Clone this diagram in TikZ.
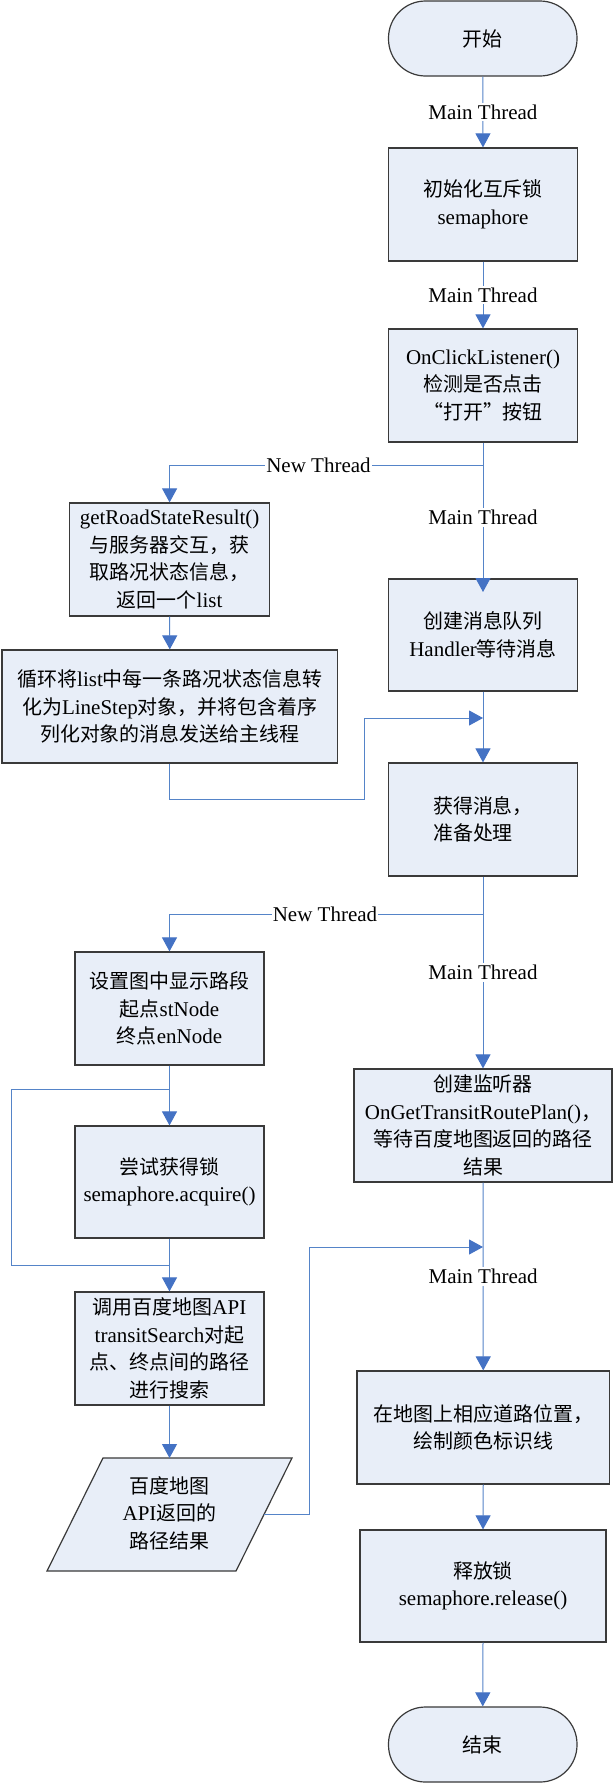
\documentclass[tikz,border=0pt]{standalone}
\usepackage{fontspec}
\setmainfont{Liberation Serif}
\newfontfamily\zh[Scale=0.95]{Noto Sans CJK SC}
\usetikzlibrary{arrows.meta,calc}
\definecolor{fillc}{HTML}{E8EEF8}
\definecolor{bordc}{HTML}{3A3A3A}
\definecolor{linec}{HTML}{5584C8}
\definecolor{arrc}{HTML}{4472C4}
\begin{document}
\begin{tikzpicture}[x=1pt,y=-1pt,
  box/.style={draw=bordc, fill=fillc, line width=1.2pt, inner sep=0pt, align=center, text=black, font=\fontsize{21}{27.5}\selectfont},
  term/.style={box, rounded corners=37pt},
  conn/.style={draw=linec, line width=1pt},
  arr/.style={conn, -{Triangle[width=15pt,length=14pt,color=arrc]}},
  lbl/.style={fill=white, inner xsep=1pt, inner ysep=2pt, text=black, font=\fontsize{21}{25}\selectfont},
  txt/.style={inner sep=0pt, align=center, text=black, font=\fontsize{21}{27.5}\selectfont}]
\useasboundingbox (0,0) rectangle (613,1783);
\fill[white] (0,0) rectangle (613,1783);

% main column
\node[term, minimum width=188.5pt, minimum height=75pt] (start) at (482.75,38.5) {{\zh 开始}};
\node[box, minimum width=189pt, minimum height=113pt] (b2) at (483,204.5) {{\zh 初始化互斥锁}\\semaphore};
\node[box, minimum width=189pt, minimum height=113pt] (b3) at (483,385.5) {OnClickListener()\\{\zh 检测是否点击}\\{\zh “打开”按钮}};
\node[box, minimum width=189pt, minimum height=112pt] (b5) at (483,635) {{\zh 创建消息队列}\\Handler{\zh 等待消息}};
\node[box, minimum width=189pt, minimum height=113pt, align=left] (b7) at (483,819.5) {{\zh 获得消息，}\\{\zh 准备处理}};
\node[box, minimum width=258pt, minimum height=113pt] (b9) at (483,1125.5) {{\zh 创建监听器}\\OnGetTransitRoutePlan(){\zh ，}\\{\zh 等待百度地图返回的路径}\\{\zh 结果}};
\node[box, minimum width=252.5pt, minimum height=113pt] (b12) at (483.25,1427.5) {{\zh 在地图上相应道路位置，}\\{\zh 绘制颜色标识线}};
\node[box, minimum width=246pt, minimum height=112pt] (b13) at (483,1586) {{\zh 释放锁}\\semaphore.release()};
\node[term, minimum width=188.5pt, minimum height=75pt] (end) at (482.75,1744.5) {{\zh 结束}};

% left column
\node[box, minimum width=200pt, minimum height=113pt] (b4) at (169.6,559.5) {getRoadStateResult()\\{\zh 与服务器交互，获}\\{\zh 取路况状态信息，}\\{\zh 返回一个}list};
\node[box, minimum width=335.6pt, minimum height=113pt] (b6) at (169.8,706.5) {{\zh 循环将}list{\zh 中每一条路况状态信息转}\\{\zh 化为}LineStep{\zh 对象，并将包含着序}\\{\zh 列化对象的消息发送给主线程}};
\node[box, minimum width=189pt, minimum height=113pt] (b8) at (169.5,1008.5) {{\zh 设置图中显示路段}\\{\zh 起点}stNode\\{\zh 终点}enNode};
\node[box, minimum width=189pt, minimum height=112pt] (b10) at (169.5,1182) {{\zh 尝试获得锁}\\semaphore.acquire()};
\node[box, minimum width=189pt, minimum height=113pt] (b11) at (169.5,1348.5) {{\zh 调用百度地图}API\\transitSearch{\zh 对起}\\{\zh 点、终点间的路径}\\{\zh 进行搜索}};
\draw[draw=bordc, fill=fillc, line width=1.2pt] (103,1458) -- (292,1458) -- (236,1571) -- (47,1571) -- cycle;
\node[txt] (para) at (169.5,1513) {{\zh 百度地图}\\API{\zh 返回的}\\{\zh 路径结果}};
\coordinate (paratop) at (169.5,1458);
\coordinate (pararight) at (264,1514.5);

% junction coordinates
\coordinate (j1) at (483,465);
\coordinate (j2) at (483,718);
\coordinate (j3) at (483,914);
\coordinate (j4) at (169.5,1089);
\coordinate (j5) at (169.5,1265);
\coordinate (j6) at (483,1247);
\coordinate (b5in) at (483,592);

% main connectors
\draw[arr] (start.south) -- node[lbl] (l1) {Main Thread} (b2.north);
\draw[arr] (b2.south) -- node[lbl] (l2) {Main Thread} (b3.north);
\draw[arr] (b3.south) -- node[lbl] (l3) {Main Thread} (b5in);
\draw[arr] (j1) -- node[lbl, pos=0.525] (l4) {New Thread} (j1 -| b4.north) -- (b4.north);
\draw[arr] (b4.south) -- (b6.north);
\draw[arr] (b6.south) -- ++(0,36) -| (364.6,718) -- (j2);
\draw[arr] (b5.south) -- (b7.north);
\draw[arr] (b7.south) -- node[lbl] (l5) {Main Thread} (b9.north);
\draw[arr] (j3) -- node[lbl, pos=0.504] (l6) {New Thread} (j3 -| b8.north) -- (b8.north);
\draw[arr] (b8.south) -- (b10.north);
\draw[conn] (j5) -- (11,1265) -- (11,1089) -- (j4);
\draw[arr] (b10.south) -- (b11.north);
\draw[arr] (b11.south) -- (paratop);
\draw[arr] (pararight) -- (309,1514.5) -- (309,1247) -- (j6);
\draw[arr] (b9.south) -- node[lbl] (l7) {Main Thread} (b12.north);
\draw[arr] (b12.south) -- (b13.north);
\draw[arr] (b13.south) -- (end.north);
\end{tikzpicture}
\end{document}
